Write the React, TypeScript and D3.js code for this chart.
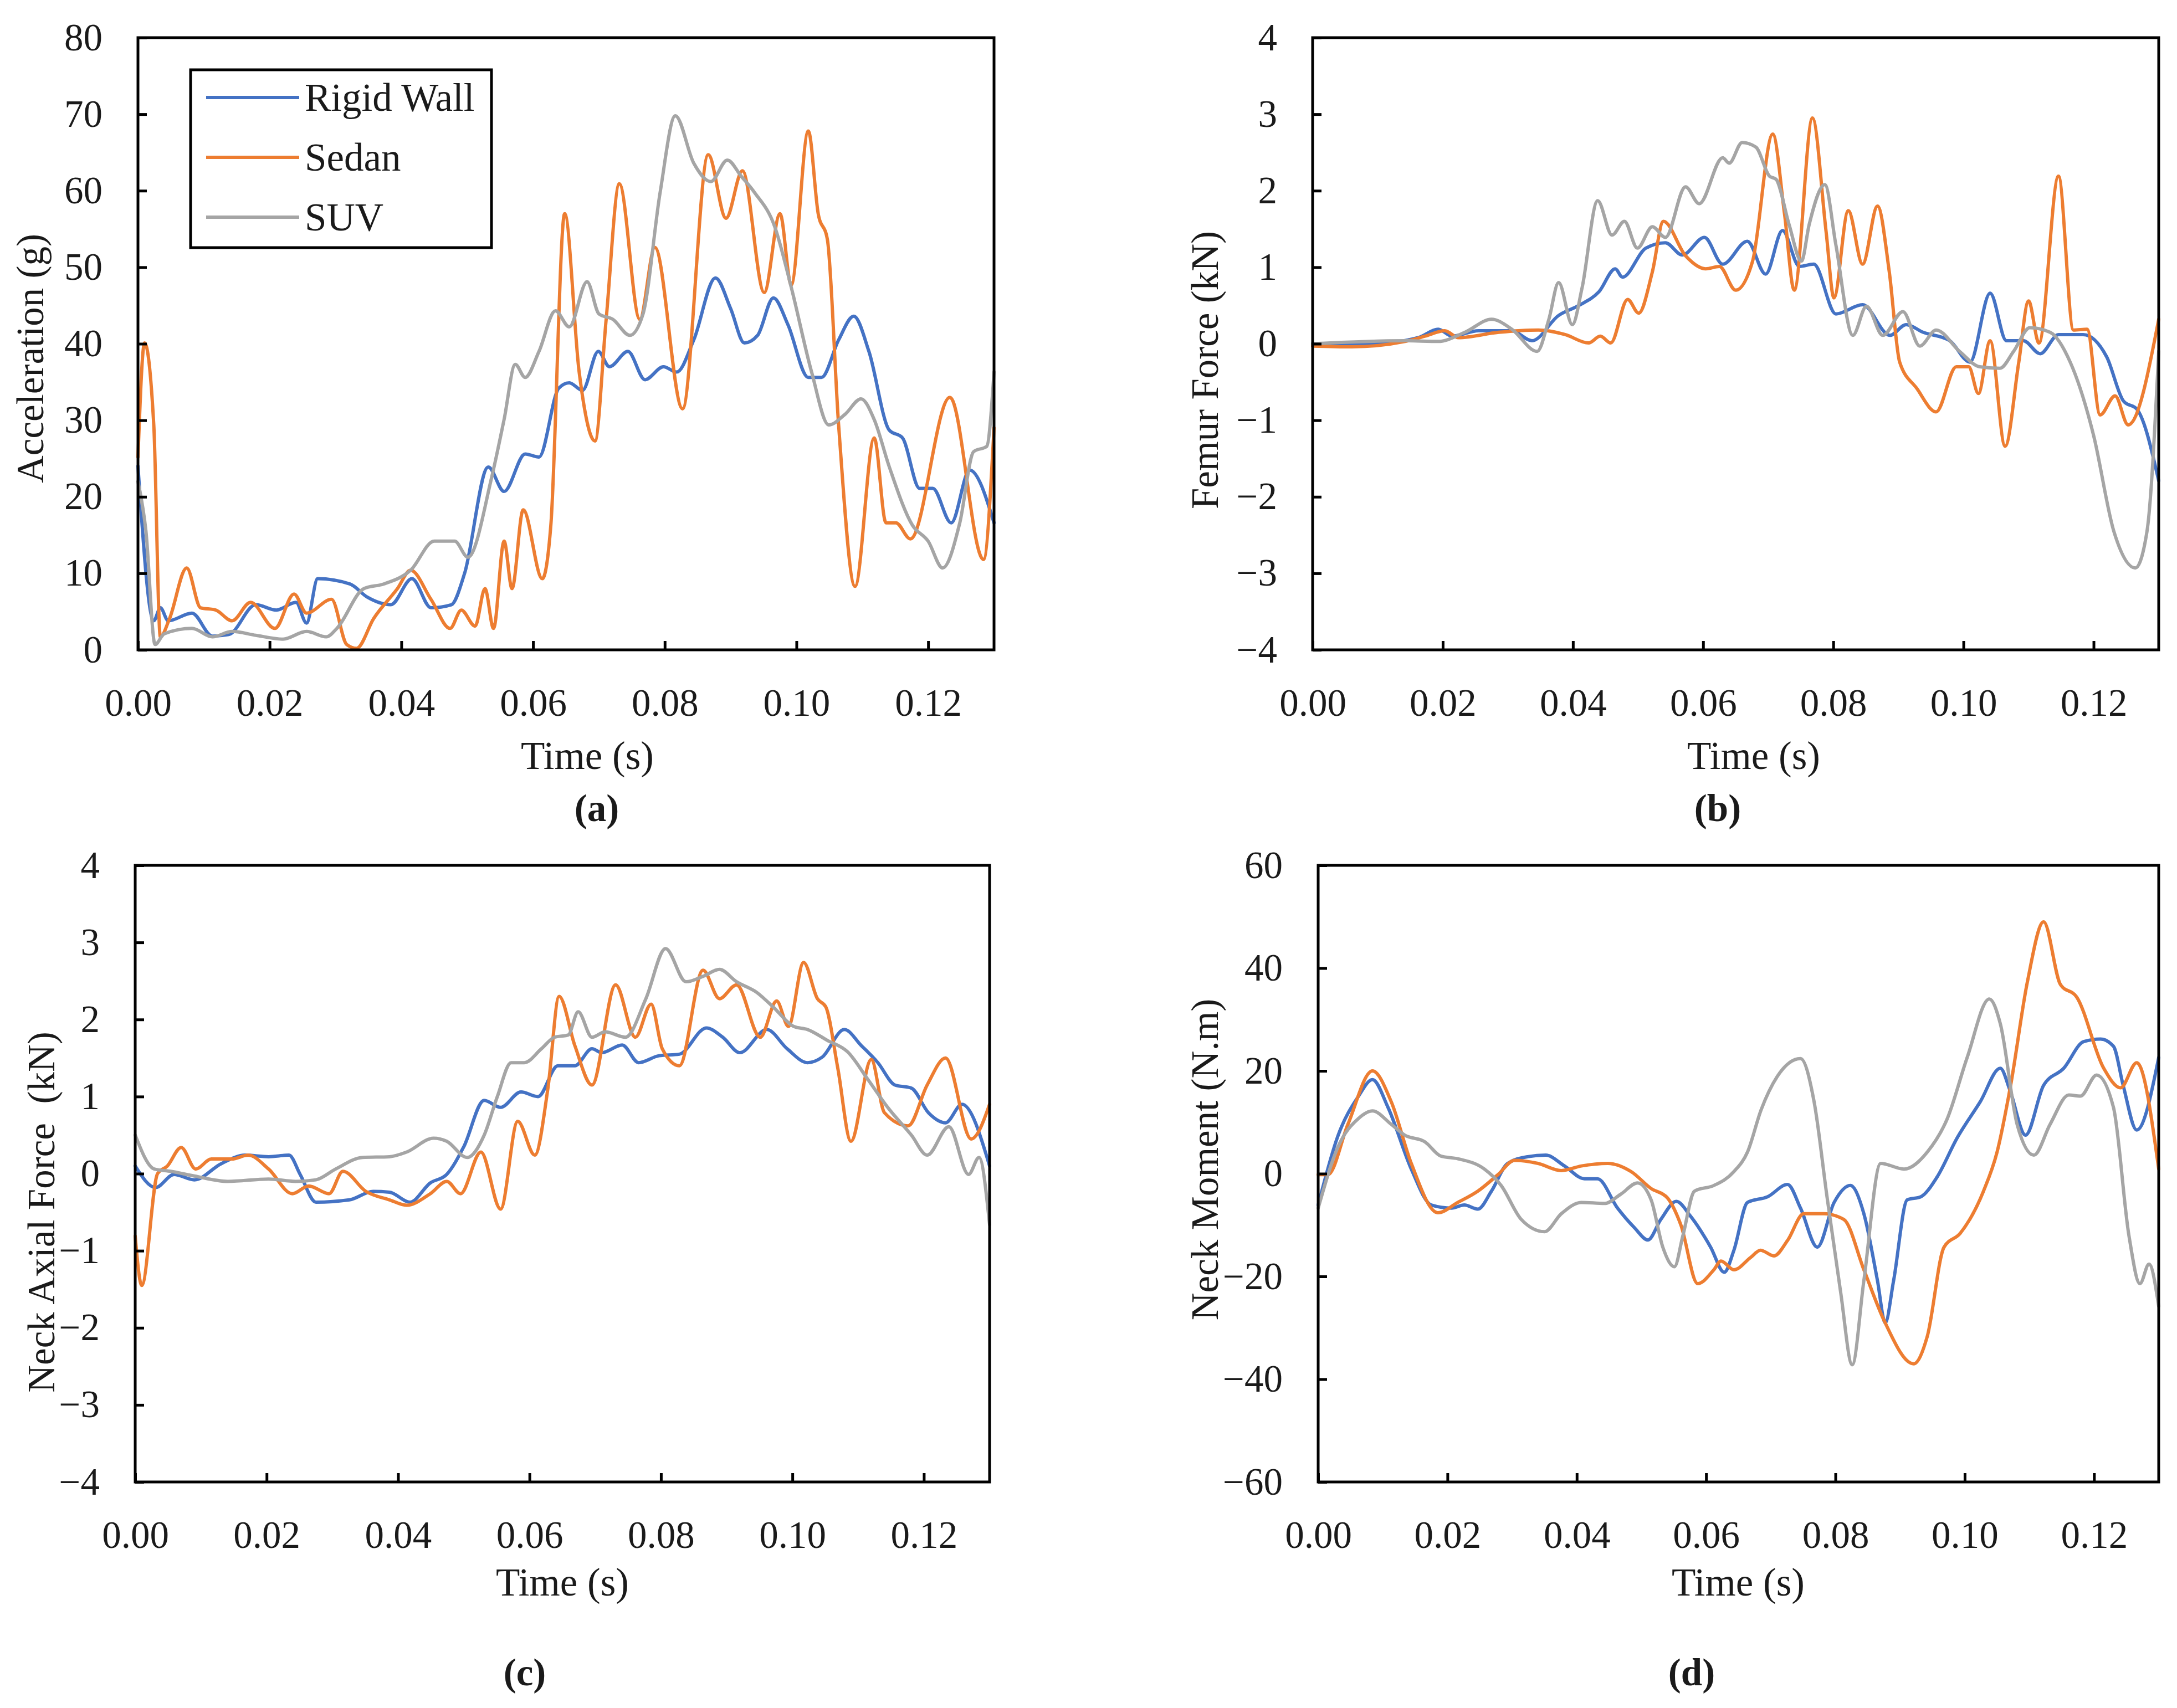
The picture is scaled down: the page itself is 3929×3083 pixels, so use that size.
import * as d3 from "d3";
import { useEffect, useRef } from "react";

type Pt = [number, number];

const seriesNames = ["Rigid Wall", "Sedan", "SUV"];
const seriesColors = ["#4472C4", "#ED7D31", "#A5A5A5"];
const timeTicks = [0, 0.02, 0.04, 0.06, 0.08, 0.1, 0.12];

// (a) acceleration, g
const accRigid: Pt[] = [
  [0, 24], [0.0024, 3.8], [0.0034, 5.5], [0.0046, 3.8], [0.0082, 4.8], [0.0113, 1.8], [0.0138, 2],
  [0.0179, 5.9], [0.021, 5.2], [0.024, 6.2], [0.0256, 3.5], [0.0273, 9.3], [0.0322, 8.6], [0.0348, 6.9],
  [0.0384, 5.9], [0.0416, 9.3], [0.0445, 5.5], [0.0476, 5.9], [0.0496, 10], [0.0532, 23.9], [0.0556, 20.7],
  [0.0588, 25.6], [0.0609, 25.2], [0.0639, 34.2], [0.0655, 34.9], [0.0675, 33.9], [0.0699, 39], [0.0716, 37],
  [0.0744, 39], [0.077, 35.3], [0.0798, 37], [0.0818, 36.3], [0.0844, 40.5], [0.0877, 48.6], [0.09, 44.6],
  [0.0921, 40.1], [0.0941, 41.1], [0.0965, 46], [0.0987, 42.5], [0.1018, 35.6], [0.1038, 35.6], [0.1064, 40.5],
  [0.1087, 43.6], [0.111, 39], [0.1141, 28.7], [0.1161, 27.7], [0.1187, 21.1], [0.1207, 21.1], [0.1235, 16.6],
  [0.1263, 23.5], [0.13, 16.6],
];
const accSedan: Pt[] = [
  [0, 25.2], [0.001, 40.1], [0.0024, 29.4], [0.0034, 1.7], [0.0048, 4.1], [0.0074, 10.7], [0.0095, 5.5],
  [0.0118, 5.2], [0.0143, 3.8], [0.0171, 6.2], [0.0208, 2.8], [0.0237, 7.3], [0.0256, 4.8], [0.0294, 6.6],
  [0.0317, 0.7], [0.0332, 0.2], [0.0358, 4.1], [0.0394, 8], [0.0414, 10.4], [0.0445, 6.6], [0.0474, 2.8],
  [0.0491, 5.2], [0.0512, 3.1], [0.0527, 8], [0.054, 2.8], [0.0556, 14.2], [0.0568, 8], [0.0585, 18.3],
  [0.0614, 9.3], [0.0627, 16.3], [0.0648, 57], [0.067, 36.3], [0.0694, 27.3], [0.0711, 43.2], [0.0731, 60.9],
  [0.0762, 43.2], [0.0785, 52.6], [0.0827, 31.5], [0.0866, 64.7], [0.0893, 56.4], [0.0918, 62.6], [0.0951, 46.7],
  [0.0975, 57], [0.0992, 47.7], [0.1018, 67.8], [0.1033, 57], [0.1047, 53.6], [0.1064, 29.4], [0.1089, 8.3],
  [0.1118, 27.7], [0.1136, 16.6], [0.1151, 16.6], [0.1173, 14.5], [0.1233, 33], [0.1284, 11.8], [0.13, 29],
];
const accSuv: Pt[] = [
  [0, 22], [0.0012, 15.6], [0.0026, 0.7], [0.004, 2.1], [0.0082, 2.8], [0.0113, 1.7], [0.0143, 2.4],
  [0.0179, 1.9], [0.022, 1.4], [0.0256, 2.4], [0.0286, 1.7], [0.0302, 2.8], [0.0343, 8], [0.0373, 8.6],
  [0.0414, 10.4], [0.045, 14.2], [0.0481, 14.2], [0.0501, 12.1], [0.0537, 22.5], [0.0556, 30.1], [0.0573, 37.3],
  [0.0588, 35.6], [0.0609, 39], [0.0634, 44.3], [0.0655, 42.2], [0.0682, 48.1], [0.07, 43.9], [0.0721, 43.2],
  [0.0747, 41.1], [0.0767, 43.9], [0.0793, 59.8], [0.0816, 69.8], [0.0844, 63.6], [0.087, 61.2], [0.0895, 64],
  [0.0916, 61.9], [0.0936, 59.8], [0.0967, 55.3], [0.0992, 47.4], [0.1023, 36.3], [0.1049, 29.4], [0.1074, 30.8],
  [0.1098, 32.8], [0.1118, 30.1], [0.1141, 23.9], [0.1176, 16.3], [0.12, 14.2], [0.1222, 10.7], [0.1248, 16.6],
  [0.1269, 25.9], [0.1289, 26.6], [0.13, 36.3],
];

// (b) femur force, kN
const femurRigid: Pt[] = [
  [0, 0], [0.009, 0], [0.0162, 0.08], [0.0193, 0.19], [0.0214, 0.1], [0.0255, 0.17], [0.0306, 0.17],
  [0.0337, 0.04], [0.0378, 0.37], [0.0409, 0.5], [0.044, 0.68], [0.0465, 0.98], [0.0476, 0.87], [0.0512, 1.25],
  [0.0542, 1.32], [0.0568, 1.16], [0.0602, 1.39], [0.063, 1.04], [0.0668, 1.34], [0.0696, 0.91], [0.0722, 1.48],
  [0.0748, 1.01], [0.077, 1.04], [0.0804, 0.39], [0.0845, 0.51], [0.0887, 0.11], [0.0912, 0.25], [0.0938, 0.15],
  [0.0979, 0.04], [0.101, -0.24], [0.1041, 0.66], [0.1066, 0.04], [0.1092, 0.04], [0.1118, -0.13], [0.1146, 0.12],
  [0.1184, 0.12], [0.122, -0.17], [0.1246, -0.75], [0.1267, -0.86], [0.13, -1.79],
];
const femurSedan: Pt[] = [
  [0, -0.03], [0.006, -0.04], [0.0142, 0.03], [0.0173, 0.1], [0.0203, 0.17], [0.0224, 0.08], [0.0286, 0.15],
  [0.0347, 0.18], [0.0388, 0.12], [0.0424, 0.01], [0.0442, 0.1], [0.0458, 0.01], [0.0484, 0.58], [0.0501, 0.4],
  [0.0522, 0.94], [0.0539, 1.6], [0.0573, 1.15], [0.0604, 0.98], [0.0625, 1.01], [0.065, 0.7], [0.0676, 1.08],
  [0.0707, 2.74], [0.0725, 1.7], [0.074, 0.7], [0.0768, 2.95], [0.0789, 1.46], [0.0801, 0.6], [0.0823, 1.74],
  [0.0845, 1.04], [0.0868, 1.8], [0.0886, 0.94], [0.0902, -0.24], [0.0928, -0.58], [0.0958, -0.89], [0.0989, -0.3],
  [0.1008, -0.3], [0.1023, -0.65], [0.1041, 0.04], [0.1064, -1.34], [0.1085, -0.24], [0.11, 0.56], [0.1116, 0.01],
  [0.1146, 2.19], [0.1169, 0.18], [0.119, 0.19], [0.121, -0.93], [0.1233, -0.68], [0.1253, -1.06], [0.13, 0.32],
];
const femurSuv: Pt[] = [
  [0, 0], [0.0142, 0.04], [0.0193, 0.03], [0.0234, 0.15], [0.0275, 0.32], [0.0306, 0.19], [0.0345, -0.1],
  [0.0363, 0.32], [0.0378, 0.8], [0.0399, 0.25], [0.0414, 0.73], [0.0438, 1.87], [0.046, 1.42], [0.0479, 1.6],
  [0.0499, 1.25], [0.0522, 1.53], [0.0542, 1.39], [0.0573, 2.05], [0.0594, 1.83], [0.063, 2.43], [0.064, 2.36],
  [0.066, 2.63], [0.0681, 2.57], [0.0702, 2.19], [0.0712, 2.15], [0.0732, 1.56], [0.0751, 1.08], [0.0763, 1.56],
  [0.0787, 2.08], [0.0804, 1.29], [0.083, 0.11], [0.0851, 0.49], [0.0876, 0.11], [0.0907, 0.42], [0.0933, -0.03],
  [0.0958, 0.18], [0.0994, -0.1], [0.1025, -0.3], [0.1056, -0.32], [0.1077, -0.1], [0.1102, 0.21], [0.1133, 0.15],
  [0.1164, -0.24], [0.12, -1.2], [0.1231, -2.45], [0.1264, -2.93], [0.1282, -2.45], [0.13, -0.1],
];

// (c) neck axial force, kN
const neckFRigid: Pt[] = [
  [0, 0.1], [0.0031, -0.18], [0.0059, -0.01], [0.009, -0.08], [0.0131, 0.13], [0.0167, 0.24], [0.0203, 0.22],
  [0.0234, 0.24], [0.0251, -0.01], [0.0275, -0.37], [0.0326, -0.34], [0.0362, -0.23], [0.0387, -0.24],
  [0.0418, -0.37], [0.0449, -0.12], [0.0474, -0.01], [0.05, 0.35], [0.0531, 0.95], [0.0556, 0.86], [0.0587, 1.06],
  [0.0613, 1.0], [0.0643, 1.4], [0.0669, 1.4], [0.0695, 1.62], [0.071, 1.57], [0.0741, 1.67], [0.0766, 1.44],
  [0.0797, 1.53], [0.0828, 1.55], [0.0869, 1.89], [0.0894, 1.77], [0.092, 1.57], [0.0961, 1.87], [0.0992, 1.62],
  [0.1023, 1.44], [0.1045, 1.51], [0.1079, 1.87], [0.1105, 1.66], [0.113, 1.44], [0.1156, 1.15], [0.1181, 1.11],
  [0.1207, 0.79], [0.1233, 0.66], [0.1258, 0.9], [0.13, 0.1],
];
const neckFSedan: Pt[] = [
  [0, -0.81], [0.001, -1.45], [0.0034, 0.0], [0.0049, 0.1], [0.007, 0.34], [0.0092, 0.06], [0.0116, 0.19],
  [0.0147, 0.19], [0.0172, 0.24], [0.0203, 0.06], [0.0239, -0.26], [0.0264, -0.16], [0.0295, -0.26],
  [0.0316, 0.03], [0.0351, -0.23], [0.0387, -0.34], [0.0413, -0.41], [0.0449, -0.26], [0.0474, -0.1],
  [0.0495, -0.26], [0.0526, 0.28], [0.0556, -0.46], [0.0582, 0.68], [0.0608, 0.24], [0.0628, 1.11], [0.0645, 2.3],
  [0.0669, 1.66], [0.0695, 1.15], [0.0731, 2.45], [0.0761, 1.77], [0.0785, 2.2], [0.0802, 1.62], [0.0828, 1.4],
  [0.0864, 2.64], [0.0889, 2.27], [0.0915, 2.45], [0.0951, 1.77], [0.0976, 2.24], [0.0994, 1.91], [0.1017, 2.74],
  [0.1038, 2.27], [0.1051, 2.16], [0.1069, 1.37], [0.1089, 0.42], [0.112, 1.48], [0.114, 0.79], [0.1176, 0.62],
  [0.1205, 1.15], [0.1233, 1.5], [0.1272, 0.45], [0.13, 0.9],
];
const neckFSuv: Pt[] = [
  [0, 0.5], [0.0029, 0.06], [0.0054, 0.03], [0.009, -0.03], [0.0141, -0.1], [0.0203, -0.07], [0.0244, -0.1],
  [0.0275, -0.08], [0.0305, 0.06], [0.0346, 0.21], [0.0387, 0.22], [0.0413, 0.28], [0.0454, 0.46], [0.0474, 0.42],
  [0.0505, 0.21], [0.0531, 0.5], [0.0551, 1.0], [0.0572, 1.44], [0.0592, 1.44], [0.0618, 1.62], [0.0638, 1.77],
  [0.0659, 1.8], [0.0674, 2.1], [0.0695, 1.77], [0.0715, 1.84], [0.0746, 1.77], [0.0777, 2.27], [0.0807, 2.92],
  [0.0838, 2.49], [0.0864, 2.56], [0.0889, 2.65], [0.0915, 2.49], [0.0946, 2.35], [0.0971, 2.16], [0.1002, 1.91],
  [0.1023, 1.87], [0.1053, 1.73], [0.1084, 1.58], [0.1115, 1.22], [0.1145, 0.86], [0.1181, 0.5], [0.1205, 0.24],
  [0.1238, 0.61], [0.1268, -0.01], [0.1284, 0.21], [0.13, -0.66],
];

// (d) neck moment, N.m
const neckMRigid: Pt[] = [
  [0, -6.1], [0.0031, 7.5], [0.0062, 15], [0.0084, 18.3], [0.0108, 12.9], [0.0144, 0.9], [0.0175, -6.1],
  [0.0206, -6.7], [0.0226, -6.1], [0.0247, -6.9], [0.0268, -3.4], [0.0293, 2], [0.0324, 3.3], [0.0352, 3.6],
  [0.0381, 1.5], [0.0412, -1], [0.0432, -1], [0.0463, -6.7], [0.0489, -10.5], [0.051, -12.9], [0.053, -8.9],
  [0.0554, -5.4], [0.0576, -8.3], [0.0607, -14.3], [0.0628, -19.2], [0.0643, -14.9], [0.0664, -5.6],
  [0.0695, -4.5], [0.0726, -2.1], [0.0746, -6.7], [0.0772, -14.3], [0.0798, -5.6], [0.0823, -2.3],
  [0.0844, -7.8], [0.0865, -20.8], [0.0877, -29], [0.089, -20.8], [0.0911, -5.1], [0.0932, -4.5], [0.0957, -0.7],
  [0.0988, 6.9], [0.1024, 14], [0.1055, 20.5], [0.107, 16.2], [0.1094, 7.5], [0.1122, 17.2], [0.1153, 20.5],
  [0.1184, 25.7], [0.121, 26.2], [0.123, 24.8], [0.1245, 17.2], [0.1266, 8.5], [0.13, 22.6],
];
const neckMSedan: Pt[] = [
  [0, -0.2], [0.0015, -0.2], [0.0046, 9.6], [0.0084, 20], [0.0113, 14], [0.0144, 2], [0.0185, -7.6],
  [0.0216, -5.6], [0.0247, -3.4], [0.0278, -0.2], [0.0304, 2.6], [0.034, 2], [0.0376, 0.6], [0.0407, 1.5],
  [0.0448, 2], [0.0484, 0.4], [0.0515, -2.9], [0.054, -4.7], [0.0561, -10], [0.0587, -21.4], [0.0612, -18.7],
  [0.0623, -17], [0.0643, -18.7], [0.0669, -16.3], [0.0684, -14.9], [0.0705, -16], [0.0726, -13], [0.0751, -7.8],
  [0.0782, -7.8], [0.0813, -8.9], [0.0844, -18.7], [0.0875, -28.5], [0.0921, -37], [0.0942, -31.7],
  [0.0968, -14.3], [0.0993, -11.6], [0.1029, -3.4], [0.105, 4.2], [0.1071, 17.2], [0.1097, 37.4], [0.1122, 49],
  [0.1148, 36.8], [0.1173, 34.4], [0.1215, 20.5], [0.1241, 16.7], [0.1266, 21.6], [0.13, 0.9],
];
const neckMSuv: Pt[] = [
  [0, -6.7], [0.0031, 5.3], [0.0062, 10.7], [0.0084, 12.2], [0.0113, 9.6], [0.0134, 7.5], [0.0165, 6.2],
  [0.019, 3.4], [0.0216, 2.9], [0.0257, 0.9], [0.0283, -2.3], [0.0314, -8.9], [0.035, -11.3], [0.0376, -7.8],
  [0.0407, -5.6], [0.0443, -5.8], [0.0468, -4], [0.0494, -1.8], [0.0515, -5.1], [0.0533, -14.3], [0.0551, -18.1],
  [0.0564, -12.1], [0.0582, -3.4], [0.0612, -2.3], [0.0643, 0.4], [0.0664, 4.2], [0.0685, 12.4], [0.071, 18.9],
  [0.0746, 22.4], [0.0767, 14], [0.0787, -4.5], [0.0808, -23], [0.0826, -37.2], [0.0844, -20.8], [0.087, 2],
  [0.0906, 0.9], [0.0942, 4.2], [0.0973, 10.7], [0.1004, 22.7], [0.1038, 34], [0.1055, 29.2], [0.1081, 9.6],
  [0.1107, 3.6], [0.1132, 9.6], [0.1161, 15.3], [0.1179, 15.1], [0.1204, 19.2], [0.123, 12.9], [0.1254, -12.1],
  [0.1271, -21.4], [0.1285, -17.6], [0.13, -25.8],
];

const accTicks = [0, 10, 20, 30, 40, 50, 60, 70, 80];
const forceTicks = [-4, -3, -2, -1, 0, 1, 2, 3, 4];
const momentTicks = [-60, -40, -20, 0, 20, 40, 60];

const panels = [
  {
    tag: "(a)", yTitle: "Acceleration (g)", yDomain: [0, 80], yTicks: accTicks,
    series: [accRigid, accSedan, accSuv], legend: true,
    box: { x0: 249, x1: 1794, y0: 68, y1: 1173 },
    yTitleX: 55, yTitleY: 647, xTitleX: 1060, xTitleY: 1364, tagY: 1459, tagX: 1077,
  },
  {
    tag: "(b)", yTitle: "Femur Force (kN)", yDomain: [-4, 4], yTicks: forceTicks,
    series: [femurRigid, femurSedan, femurSuv], legend: false,
    box: { x0: 2369, x1: 3896, y0: 68, y1: 1173 },
    yTitleX: 2175, yTitleY: 668, xTitleX: 3165, xTitleY: 1364, tagY: 1459, tagX: 3100,
  },
  {
    tag: "(c)", yTitle: "Neck Axial Force  (kN)", yDomain: [-4, 4], yTicks: forceTicks,
    series: [neckFRigid, neckFSedan, neckFSuv], legend: false,
    box: { x0: 244, x1: 1786, y0: 1562, y1: 2675 },
    yTitleX: 75, yTitleY: 2188, xTitleX: 1015, xTitleY: 2856, tagY: 3019, tagX: 947,
  },
  {
    tag: "(d)", yTitle: "Neck Moment (N.m)", yDomain: [-60, 60], yTicks: momentTicks,
    series: [neckMRigid, neckMSedan, neckMSuv], legend: false,
    box: { x0: 2379, x1: 3896, y0: 1562, y1: 2675 },
    yTitleX: 2175, yTitleY: 2093, xTitleX: 3137, xTitleY: 2856, tagY: 3019, tagX: 3053,
  },
];

const FONT = "'Liberation Serif', 'Times New Roman', serif";
const FS = 69;

export default function App() {
  const ref = useRef<SVGSVGElement | null>(null);

  useEffect(() => {
    if (!ref.current) return;
    const svg = d3.select(ref.current);
    svg.selectAll("*").remove();

    svg.append("rect").attr("width", 3929).attr("height", 3083).attr("fill", "#fff");

    panels.forEach((p) => {
      const { x0, x1, y0, y1 } = p.box;
      const x = d3.scaleLinear().domain([0, 0.13]).range([x0, x1]);
      const y = d3.scaleLinear().domain(p.yDomain).range([y1, y0]);
      const g = svg.append("g");

      const line = d3
        .line<Pt>()
        .x((d) => x(d[0]))
        .y((d) => y(d[1]))
        .curve(d3.curveMonotoneX);

      p.series.forEach((s, i) => {
        g.append("path")
          .datum(s)
          .attr("d", line)
          .attr("fill", "none")
          .attr("stroke", seriesColors[i])
          .attr("stroke-width", 6)
          .attr("stroke-linejoin", "round")
          .attr("stroke-linecap", "round");
      });

      // x axis
      const xAxis = g
        .append("g")
        .attr("transform", `translate(0,${y1})`)
        .call(
          d3.axisBottom(x)
            .tickValues(timeTicks)
            .tickSizeInner(-16)
            .tickSizeOuter(0)
            .tickPadding(70)
            .tickFormat(d3.format(".2f") as any)
        );
      xAxis.select(".domain").remove();
      xAxis.selectAll("line").attr("stroke", "#000").attr("stroke-width", 5);
      xAxis.selectAll("text").attr("font-size", FS).attr("font-family", FONT).attr("fill", "#1a1a1a");

      // y axis
      const yAxis = g
        .append("g")
        .attr("transform", `translate(${x0},0)`)
        .call(
          d3.axisLeft(y)
            .tickValues(p.yTicks)
            .tickSizeInner(-16)
            .tickSizeOuter(0)
            .tickPadding(64)
            .tickFormat(d3.format("d") as any)
        );
      yAxis.select(".domain").remove();
      yAxis.selectAll("line").attr("stroke", "#000").attr("stroke-width", 5);
      yAxis.selectAll("text").attr("font-size", FS).attr("font-family", FONT).attr("fill", "#1a1a1a");

      // frame
      g.append("rect")
        .attr("x", x0).attr("y", y0)
        .attr("width", x1 - x0).attr("height", y1 - y0)
        .attr("fill", "none").attr("stroke", "#000").attr("stroke-width", 5);

      // titles
      g.append("text")
        .attr("x", p.xTitleX)
        .attr("y", p.xTitleY)
        .attr("text-anchor", "middle")
        .attr("dominant-baseline", "central")
        .attr("font-size", FS + 2).attr("font-family", FONT).attr("fill", "#1a1a1a")
        .text("Time (s)");

      g.append("text")
        .attr("transform", `translate(${p.yTitleX},${p.yTitleY}) rotate(-90)`)
        .attr("text-anchor", "middle")
        .attr("dominant-baseline", "central")
        .attr("font-size", FS).attr("font-family", FONT).attr("fill", "#1a1a1a")
        .style("white-space", "pre")
        .text(p.yTitle);

      g.append("text")
        .attr("x", p.tagX)
        .attr("y", p.tagY)
        .attr("text-anchor", "middle")
        .attr("dominant-baseline", "central")
        .attr("font-size", FS).attr("font-weight", "bold")
        .attr("font-family", FONT).attr("fill", "#1a1a1a")
        .text(p.tag);

      if (p.legend) {
        const lg = g.append("g");
        lg.append("rect")
          .attr("x", 344).attr("y", 126)
          .attr("width", 543).attr("height", 321)
          .attr("fill", "#fff").attr("stroke", "#000").attr("stroke-width", 5);
        seriesNames.forEach((name, i) => {
          const ly = 176 + i * 108;
          lg.append("line")
            .attr("x1", 372).attr("x2", 540).attr("y1", ly).attr("y2", ly)
            .attr("stroke", seriesColors[i]).attr("stroke-width", 6);
          lg.append("text")
            .attr("x", 550).attr("y", ly)
            .attr("dominant-baseline", "central")
            .attr("font-size", 71).attr("font-family", FONT).attr("fill", "#1a1a1a")
            .text(name);
        });
      }
    });
  }, []);

  return (
    <svg
      ref={ref}
      width={3929}
      height={3083}
      style={{ position: "absolute", left: 0, top: 0, display: "block" }}
    />
  );
}
